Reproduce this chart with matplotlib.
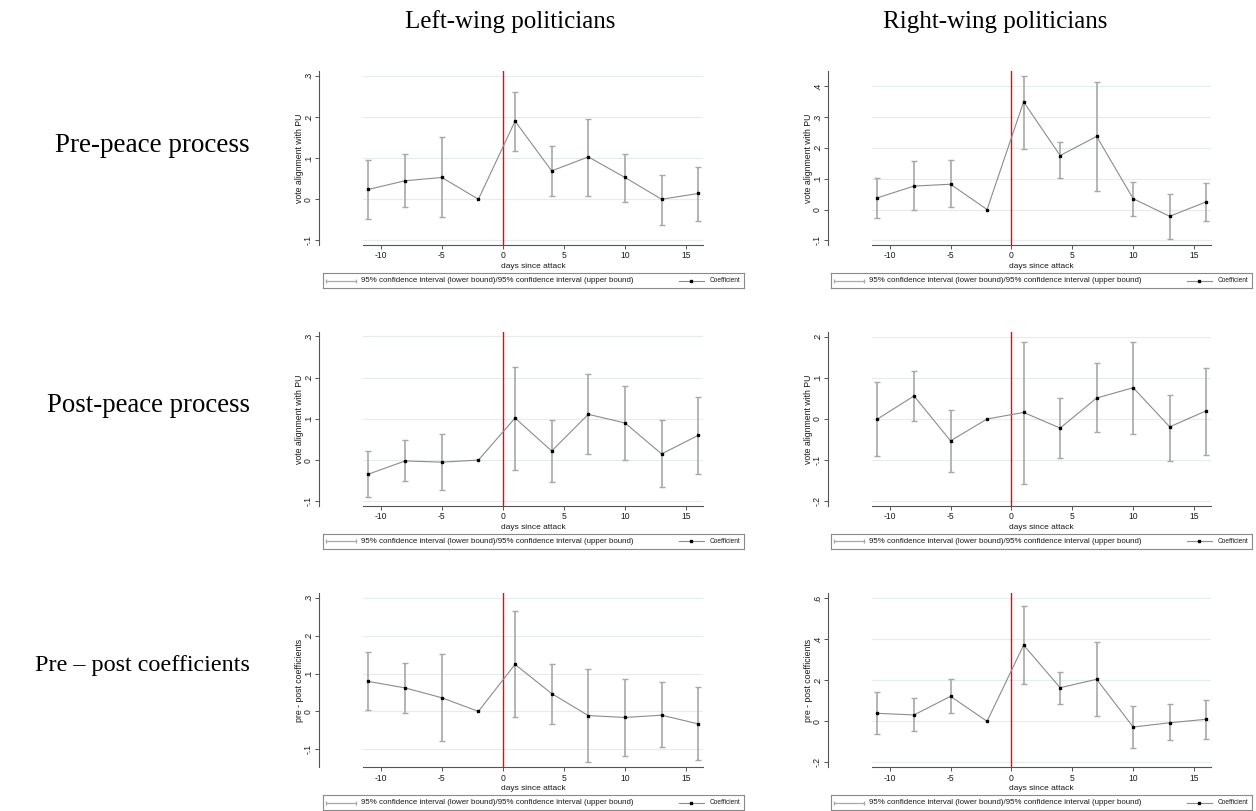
import numpy as np
import matplotlib
matplotlib.use("Agg")
import matplotlib.pyplot as plt
from matplotlib.ticker import FixedLocator, FuncFormatter

plt.rcParams["axes.unicode_minus"] = False

nan = np.nan

days = [-11, -8, -5, -2, 1, 4, 7, 10, 13, 16]

# left-wing, pre-peace process
left_pre_coef = [0.024, 0.045, 0.053, 0.0, 0.190, 0.069, 0.103, 0.053, 0.0, 0.014]
left_pre_lo = [-0.049, -0.019, -0.044, nan, 0.118, 0.007, 0.009, -0.006, -0.062, -0.052]
left_pre_hi = [0.096, 0.109, 0.152, nan, 0.262, 0.130, 0.196, 0.111, 0.060, 0.079]

# right-wing, pre-peace process
right_pre_coef = [0.038, 0.076, 0.082, 0.0, 0.349, 0.175, 0.237, 0.035, -0.022, 0.025]
right_pre_lo = [-0.027, -0.003, 0.007, nan, 0.197, 0.102, 0.061, -0.021, -0.095, -0.036]
right_pre_hi = [0.102, 0.156, 0.160, nan, 0.433, 0.219, 0.413, 0.089, 0.051, 0.086]

# left-wing, post-peace process
left_post_coef = [-0.034, -0.002, -0.005, 0.0, 0.102, 0.022, 0.111, 0.090, 0.015, 0.060]
left_post_lo = [-0.090, -0.051, -0.073, nan, -0.023, -0.053, 0.015, 0.0, -0.065, -0.033]
left_post_hi = [0.021, 0.048, 0.064, nan, 0.226, 0.097, 0.208, 0.179, 0.096, 0.152]

# right-wing, post-peace process
right_post_coef = [0.0, 0.056, -0.053, 0.0, 0.016, -0.022, 0.051, 0.076, -0.019, 0.020]
right_post_lo = [-0.091, -0.006, -0.128, nan, -0.157, -0.095, -0.032, -0.037, -0.101, -0.087]
right_post_hi = [0.091, 0.117, 0.021, nan, 0.188, 0.051, 0.135, 0.188, 0.059, 0.124]

# left-wing, pre - post difference
left_diff_coef = [0.079, 0.062, 0.036, 0.0, 0.124, 0.047, -0.011, -0.016, -0.010, -0.033]
left_diff_lo = [0.003, -0.003, -0.079, nan, -0.014, -0.032, -0.134, -0.117, -0.095, -0.129]
left_diff_hi = [0.157, 0.128, 0.151, nan, 0.264, 0.124, 0.113, 0.085, 0.077, 0.065]

# right-wing, pre - post difference
right_diff_coef = [0.039, 0.031, 0.122, 0.0, 0.372, 0.164, 0.205, -0.028, -0.007, 0.010]
right_diff_lo = [-0.063, -0.049, 0.039, nan, 0.182, 0.083, 0.024, -0.132, -0.093, -0.085]
right_diff_hi = [0.142, 0.112, 0.205, nan, 0.563, 0.241, 0.385, 0.076, 0.083, 0.106]

col_titles = ["Left-wing politicians", "Right-wing politicians"]
row_titles = ["Pre-peace process", "Post-peace process", "Pre \u2013 post coefficients"]
ylabels = ["vote alignment with PU", "vote alignment with PU", "pre - post coefficients"]
xticks = [-10, -5, 0, 5, 10, 15]

panels = [
    [(left_pre_coef, left_pre_lo, left_pre_hi, np.arange(-0.1, 0.31, 0.1), (-0.1113, 0.312)),
     (right_pre_coef, right_pre_lo, right_pre_hi, np.arange(-0.1, 0.41, 0.1), (-0.115, 0.449))],
    [(left_post_coef, left_post_lo, left_post_hi, np.arange(-0.1, 0.31, 0.1), (-0.1113, 0.3113)),
     (right_post_coef, right_post_lo, right_post_hi, np.arange(-0.2, 0.21, 0.1), (-0.2113, 0.2121))],
    [(left_diff_coef, left_diff_lo, left_diff_hi, np.arange(-0.1, 0.31, 0.1), (-0.1475, 0.3132)),
     (right_diff_coef, right_diff_lo, right_diff_hi, np.arange(-0.2, 0.61, 0.2), (-0.2244, 0.6276))],
]

W, H = 1256, 811
fig = plt.figure(figsize=(W / 100, H / 100), dpi=100)
fig.patch.set_facecolor("white")

sans = "Liberation Sans"
serif = "Liberation Serif"
txt = "#1a1a1a"


def px_axes(x0, y0, x1, y1):
    return fig.add_axes([x0 / W, 1 - y1 / H, (x1 - x0) / W, (y1 - y0) / H])


def stata_fmt(v, pos):
    s = "%.1f" % v
    if s in ("0.0", "-0.0"):
        return "0"
    return s.replace("0.", ".")


col_x = [(363, 703), (872, 1211)]
row_y = [(71, 245), (331.7, 506), (592.7, 767.3)]
leg_y = [273, 533.5, 795]
leg_x = [322.7, 830.7]

for r in range(3):
    for c in range(2):
        coef, lo, hi, yt, ylim = panels[r][c]
        ax = px_axes(col_x[c][0], row_y[r][0], col_x[c][1], row_y[r][1])
        x = np.array(days, dtype=float)
        coef = np.array(coef)
        lo = np.array(lo)
        hi = np.array(hi)
        ok = ~np.isnan(lo)

        ax.yaxis.grid(True, color="#e4ecec", lw=0.8)
        ax.set_axisbelow(True)
        ax.axvline(0, color="#ff0000", lw=1.0, zorder=1)
        ax.errorbar(x[ok], coef[ok], yerr=[coef[ok] - lo[ok], hi[ok] - coef[ok]],
                    fmt="none", ecolor="#a8a8a8", elinewidth=1.2, capsize=2.5,
                    capthick=1.0, zorder=2)
        ax.plot(x, coef, color="#8c8c8c", lw=0.8, marker="s", markersize=1.9,
                markerfacecolor="black", markeredgecolor="black", zorder=3)

        ax.set_xlim(-11.45, 16.39)
        ax.set_ylim(*ylim)
        ax.xaxis.set_major_locator(FixedLocator(xticks))
        ax.yaxis.set_major_locator(FixedLocator(yt))
        ax.yaxis.set_major_formatter(FuncFormatter(stata_fmt))

        for side in ("top", "right"):
            ax.spines[side].set_visible(False)
        ax.spines["left"].set_position(("outward", 44 * 0.72))
        for side in ("left", "bottom"):
            ax.spines[side].set_color("#555555")
            ax.spines[side].set_linewidth(0.8)
        ax.tick_params(axis="both", length=3, width=0.7, color="#555555",
                       labelsize=6.2, pad=1.5, labelcolor=txt)
        for lab in ax.get_yticklabels():
            lab.set_rotation(90)
            lab.set_va("center")
            lab.set_fontfamily(sans)
        for lab in ax.get_xticklabels():
            lab.set_fontfamily(sans)

        ax.set_xlabel("days since attack", fontsize=6.0, family=sans, color=txt)
        ax.xaxis.set_label_coords(0.5, -17.7 / (row_y[r][1] - row_y[r][0]))
        ax.set_ylabel(ylabels[r], fontsize=6.3, family=sans, color=txt)
        ax.yaxis.set_label_coords(-59 / 340, 0.5)

        # legend box
        lg = px_axes(leg_x[c], leg_y[r], leg_x[c] + 421, leg_y[r] + 15)
        lg.set_xlim(0, 421)
        lg.set_ylim(0, 15)
        lg.set_xticks([])
        lg.set_yticks([])
        for sp in lg.spines.values():
            sp.set_color("#8a8a8a")
            sp.set_linewidth(0.8)
        lg.plot([3, 33], [7.5, 7.5], color="#a8a8a8", lw=0.9, marker="|",
                markersize=3.5, markeredgewidth=0.9)
        lg.text(38.6, 7.3,
                "95% confidence interval (lower bound)/95% confidence interval (upper bound)",
                fontsize=5.7, family=sans, va="center", ha="left", color=txt)
        lg.plot([356, 381], [7.5, 7.5], color="#8c8c8c", lw=0.8)
        lg.plot([368.5], [7.5], marker="s", markersize=1.9, color="black")
        lg.text(387.3, 7.3, "Coefficient", fontsize=4.7, family=sans,
                va="center", ha="left", color=txt)

fig.text(510 / W, 1 - 22 / H, col_titles[0], fontsize=18, family=serif,
         ha="center", va="center")
fig.text(995 / W, 1 - 22 / H, col_titles[1], fontsize=18, family=serif,
         ha="center", va="center")
row_sizes = [19.5, 19.3, 17.4]
for r, ycen in enumerate([145, 405, 665]):
    fig.text(250 / W, 1 - ycen / H, row_titles[r], fontsize=row_sizes[r],
             family=serif, ha="right", va="center")

fig.savefig("out.png", dpi=100, facecolor="white")
